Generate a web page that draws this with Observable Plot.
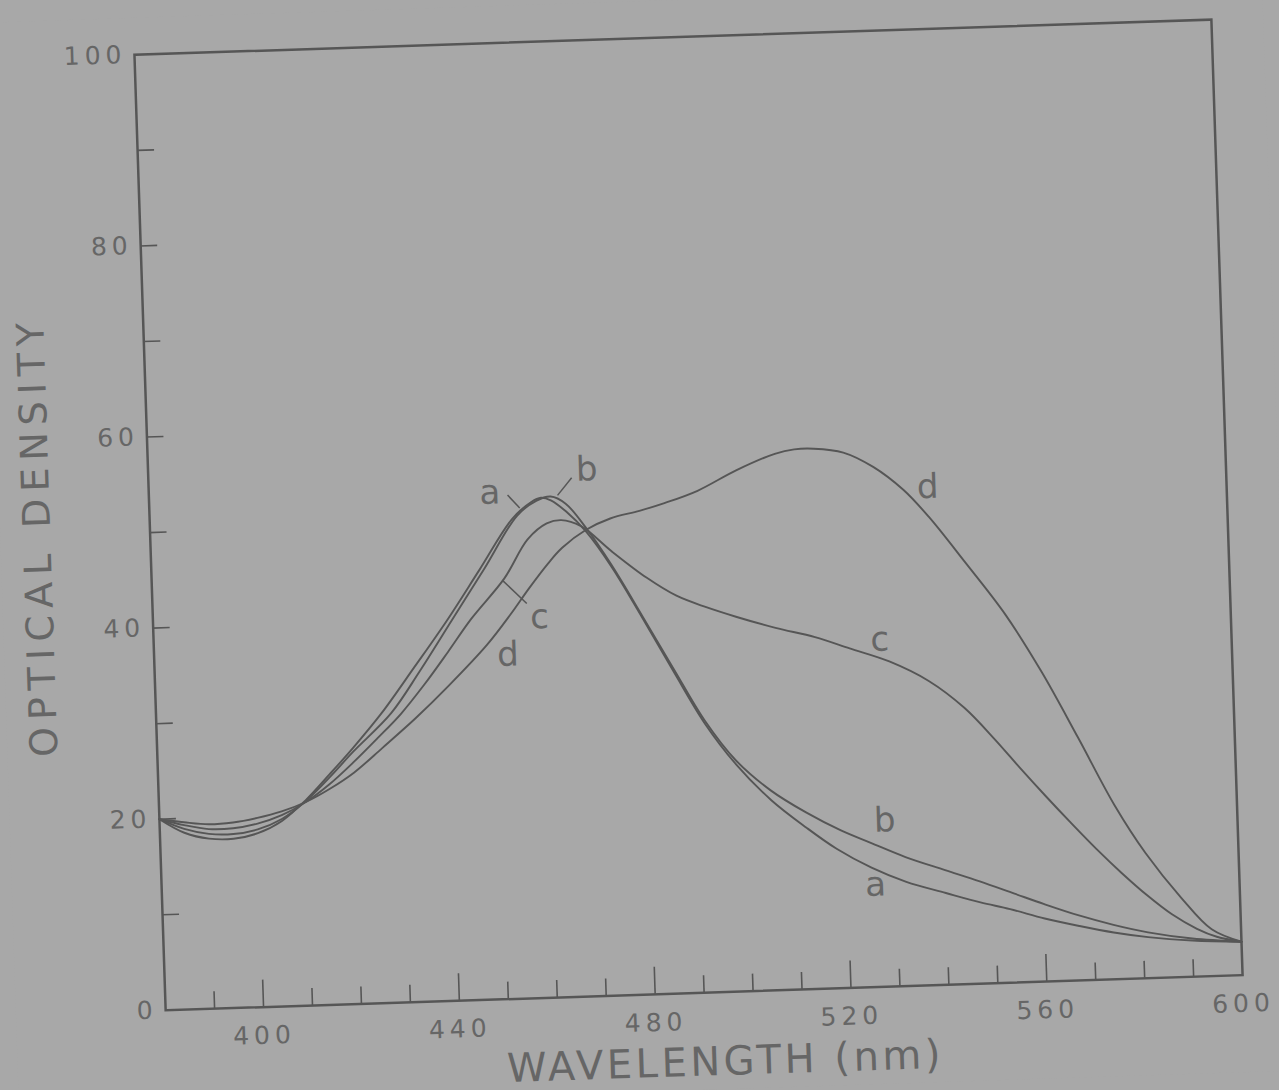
<!DOCTYPE html>
<html>
<head>
<meta charset="utf-8">
<script src="https://cdn.jsdelivr.net/npm/d3@7"></script>
<script src="https://cdn.jsdelivr.net/npm/@observablehq/plot@0.6"></script>
<style>
  html, body { margin: 0; padding: 0; background: #a8a8a8; overflow: hidden; }
  #chart svg { display: block; }
</style>
</head>
<body>
<div id="chart"></div>
<script>
// ---- Data (wavelength in nm, optical density) ----
const aNm = [380,385,390,395,400,405,410,415,420,426,433,440,447,454,458,460,462,465,469,474,480,486,492,498,505,512,518,525,532,540,547,553,560,567,574,581,590,600];
const aOD = [20.0,18.5,17.8,17.7,18.2,19.4,21.5,24.1,26.8,30.3,35.0,39.8,45.0,50.2,51.9,52.3,52.0,50.8,48.6,44.8,39.3,33.6,28.1,23.8,19.9,16.9,14.6,12.5,10.9,9.6,8.5,7.7,6.6,5.7,4.9,4.3,3.8,3.5];

const bNm = [380,385,390,395,400,405,410,415,420,428,434,441,448,455,459,462,465,469,474,480,486,492,498,505,512,519,525,532,540,547,554,560,567,574,581,590,600];
const bOD = [20.0,18.9,18.3,18.2,18.6,19.6,21.4,23.8,26.4,30.3,34.5,39.8,45.1,50.5,52.0,52.4,51.6,49.0,45.0,39.5,33.9,28.4,24.2,20.9,18.5,16.5,15.1,13.5,12.0,10.7,9.3,8.1,6.8,5.7,4.8,4.0,3.5];

const cNm = [380,385,390,395,400,405,410,415,420,425,430,435,440,445,452,457,461,464,468,474,481,487,493,499,507,515,522,530,538,545,551,556,561,566,571,576,581,586,591,595,600];
const cOD = [20.0,19.3,18.8,18.8,19.2,20.0,21.3,23.1,25.3,27.7,30.2,33.2,36.5,39.9,44.0,48.0,49.6,49.9,49.2,46.5,43.6,41.6,40.3,39.2,37.9,36.8,35.5,34.0,31.8,28.9,25.5,22.4,19.4,16.5,13.7,11.1,8.7,6.6,5.0,4.1,3.5];

const dNm = [380,385,390,395,400,405,410,415,420,426,433,440,448,453,457,461,464,469,474,480,485,492,500,508,512,516,522,528,534,539,546,554,561,568,575,581,588,594,600];
const dOD = [20.0,19.6,19.3,19.4,19.8,20.4,21.3,22.6,24.2,26.7,29.7,33.0,37.1,40.2,42.9,45.4,47.0,48.8,49.9,50.6,51.3,52.5,54.5,56.1,56.5,56.5,56.0,54.4,51.9,49.0,44.2,38.5,32.4,25.4,18.2,13.1,8.3,4.9,3.5];

// curve letters placed on the figure
const labelText = ["a","b","c","d","d","c","b","a"];
const labelNm   = [449.6,469.5,458.9,452.2,539.0,528.2,528.0,525.7];
const labelOD   = [53.0,55.1,39.8,36.0,52.1,36.3,17.4,10.7];

// short leader strokes from letters to curves (a, b, c)
const leaderNm1 = [453.2,466.4,456.4];
const leaderOD1 = [52.7,54.3,41.3];
const leaderNm2 = [455.6,463.4,451.6];
const leaderOD2 = [51.3,52.5,43.8];

// axis ticks
const xTickLabels = [400,440,480,520,560,600];
const xMajorTicks = [400,440,480,520,560];
const xMinorTicks = [390,410,420,430,450,460,470,490,500,510,530,540,550,570,580,590];
const yTickLabels = [0,20,40,60,80,100];
const yTicks = [10,20,30,40,50,60,70,80,90];

const xTitle = "WAVELENGTH (nm)";
const yTitle = "OPTICAL DENSITY";

// ---- Layout ----
const W = 1279, H = 1090;
const mL = 149.25, mR = 52.25, mT = 36.5, mB = 97.5;
const fw = W - mL - mR, fh = H - mT - mB;
const ink = "#565656";
const textInk = "#666666";
const bg = "#a8a8a8";

const series = [
  {key: "a", nm: aNm, od: aOD},
  {key: "b", nm: bNm, od: bOD},
  {key: "c", nm: cNm, od: cOD},
  {key: "d", nm: dNm, od: dOD}
];
const rows = series.flatMap(s => s.nm.map((x, i) => ({curve: s.key, nm: x, od: s.od[i]})));
const labels = labelText.map((t, i) => ({t, nm: labelNm[i], od: labelOD[i]}));
const leaders = leaderNm1.map((x, i) => ({x1: x, y1: leaderOD1[i], x2: leaderNm2[i], y2: leaderOD2[i]}));

const chart = Plot.plot({
  width: W, height: H,
  marginLeft: mL, marginRight: mR, marginTop: mT, marginBottom: mB,
  style: {background: bg, fontFamily: "'DejaVu Sans', sans-serif", color: textInk},
  x: {domain: [380, 600]},
  y: {domain: [0, 100]},
  marks: [
    Plot.frame({stroke: ink, strokeWidth: 2.5}),
    Plot.tickX(xMinorTicks, {x: d => d, insetTop: fh - 17, stroke: ink, strokeWidth: 1.6}),
    Plot.tickX(xMajorTicks, {x: d => d, insetTop: fh - 27, stroke: ink, strokeWidth: 1.6}),
    Plot.tickY(yTicks, {y: d => d, insetRight: fw - 17, stroke: ink, strokeWidth: 1.6}),
    Plot.axisX(xTickLabels, {tickSize: 0, tickPadding: 19, fontSize: 25, label: null}),
    Plot.axisY(yTickLabels, {tickSize: 0, tickPadding: 8, fontSize: 25, label: null}),
    Plot.line(rows, {x: "nm", y: "od", z: "curve", stroke: ink, strokeWidth: 1.9, curve: "catmull-rom"}),
    Plot.link(leaders, {x1: "x1", y1: "y1", x2: "x2", y2: "y2", stroke: ink, strokeWidth: 1.5}),
    Plot.text(labels, {x: "nm", y: "od", text: "t", fontSize: 34, fill: textInk}),
    Plot.text([xTitle], {text: d => d, frameAnchor: "bottom", textAnchor: "middle", lineAnchor: "middle", dx: 19, dy: 70, fontSize: 40, fill: textInk}),
    Plot.text([yTitle], {text: d => d, frameAnchor: "left", textAnchor: "middle", lineAnchor: "middle", dx: -112, rotate: -90, fontSize: 38, fill: textInk})
  ]
});

// letter spacing like the hand lettering
chart.querySelectorAll("text").forEach(t => {
  const s = t.textContent;
  if (s === xTitle) t.style.letterSpacing = "3.5px";
  else if (s === yTitle) t.style.letterSpacing = "7px";
  else if (/^\d+$/.test(s)) t.style.letterSpacing = "5px";
});

// the scanned page is slightly rotated
chart.style.transformOrigin = "688px 514.5px";
chart.style.transform = "rotate(-1.87deg)";

document.getElementById("chart").appendChild(chart);
</script>
</body>
</html>
